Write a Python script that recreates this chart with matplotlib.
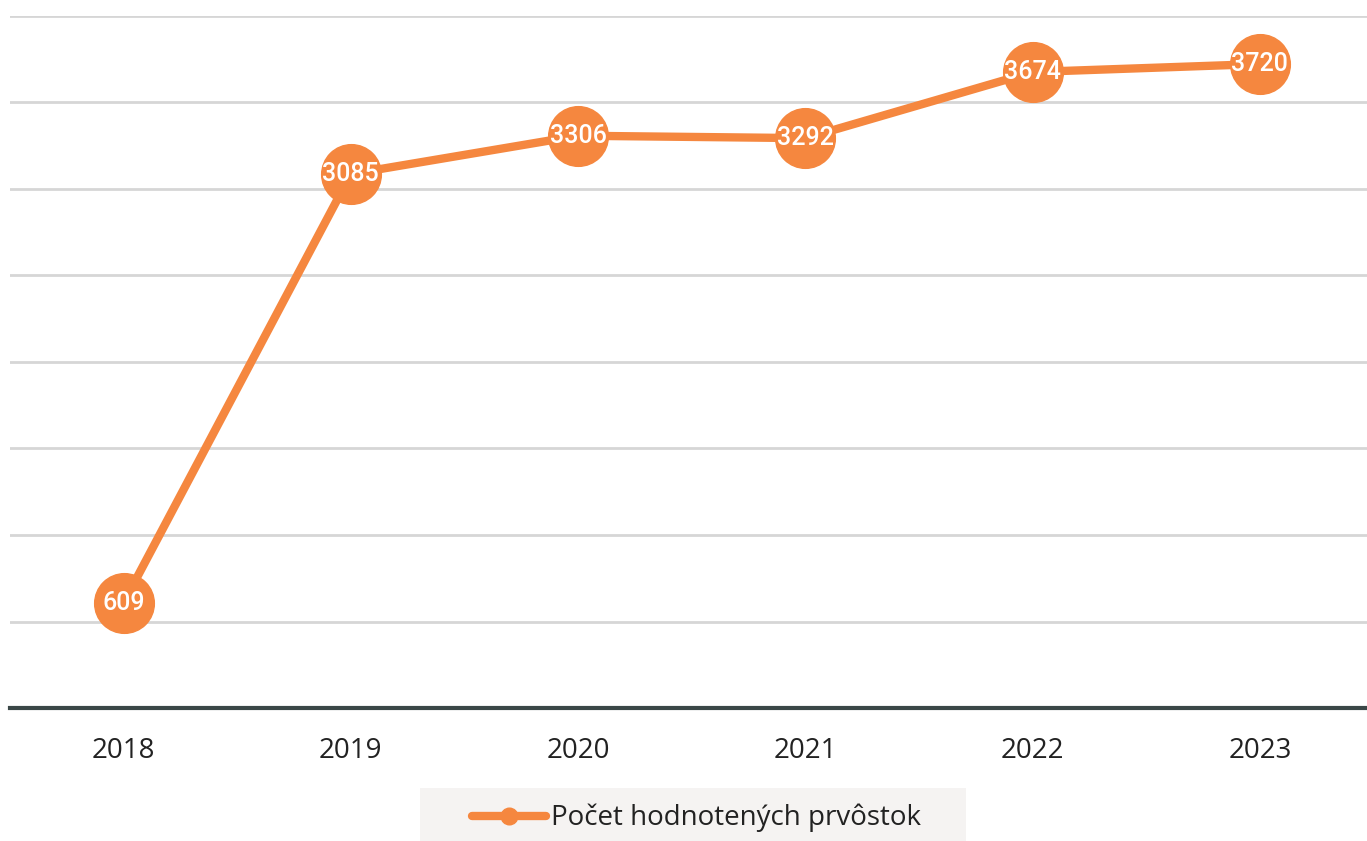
import matplotlib.pyplot as plt
from matplotlib.patches import Rectangle
import numpy as np

years = ['2018', '2019', '2020', '2021', '2022', '2023']
values = [609, 3085, 3306, 3292, 3674, 3720]
series_name = 'Počet hodnotených prvôstok'
orange = '#F5873F'

fig = plt.figure(figsize=(13.67, 8.41), dpi=100)
ax = fig.add_axes([0.0073, 0.158, 0.9975, 0.8235])

x = np.arange(len(years))
ax.plot(x, values, '-o', color=orange, lw=6, markersize=43, label=series_name,
        solid_capstyle='round', zorder=3)
for xi, v in zip(x, values):
    ax.text(xi, v, str(v), ha='center', va='center', color='white',
            fontsize=18, fontfamily='Roboto', fontweight='medium', zorder=4)

ax.set_xlim(-0.5, 5.5)
ax.set_ylim(0, 4000)
ax.set_yticks(np.arange(0, 4001, 500))
ax.set_yticklabels([])
ax.set_xticks(x)
ax.set_xticklabels(years, fontsize=20, fontfamily='Open Sans', color='#222222')
ax.tick_params(axis='both', length=0)
ax.tick_params(axis='x', pad=21)
ax.grid(axis='y', color='#d6d6d6', lw=2)
ax.set_axisbelow(True)
for s in ['top', 'left', 'right']:
    ax.spines[s].set_visible(False)
ax.spines['bottom'].set_color('#3a4747')
ax.spines['bottom'].set_linewidth(3)

# legend background box, running off the bottom edge
fig.patches.append(Rectangle((420 / 1367, 0), 546 / 1367, 53 / 841, transform=fig.transFigure,
                             facecolor='#f5f3f2', edgecolor='none', zorder=0))
leg = fig.legend(handles=ax.get_lines(), loc='center', bbox_to_anchor=(0.5095, 0.0273),
                 prop={'family': 'Open Sans', 'size': 20}, frameon=False,
                 handlelength=2.65, handletextpad=0.18, borderpad=0, borderaxespad=0)
for h in leg.legend_handles:
    h.set_markersize(12)
for t in leg.get_texts():
    t.set_color('#222222')

fig.savefig('out.png', dpi=100)
